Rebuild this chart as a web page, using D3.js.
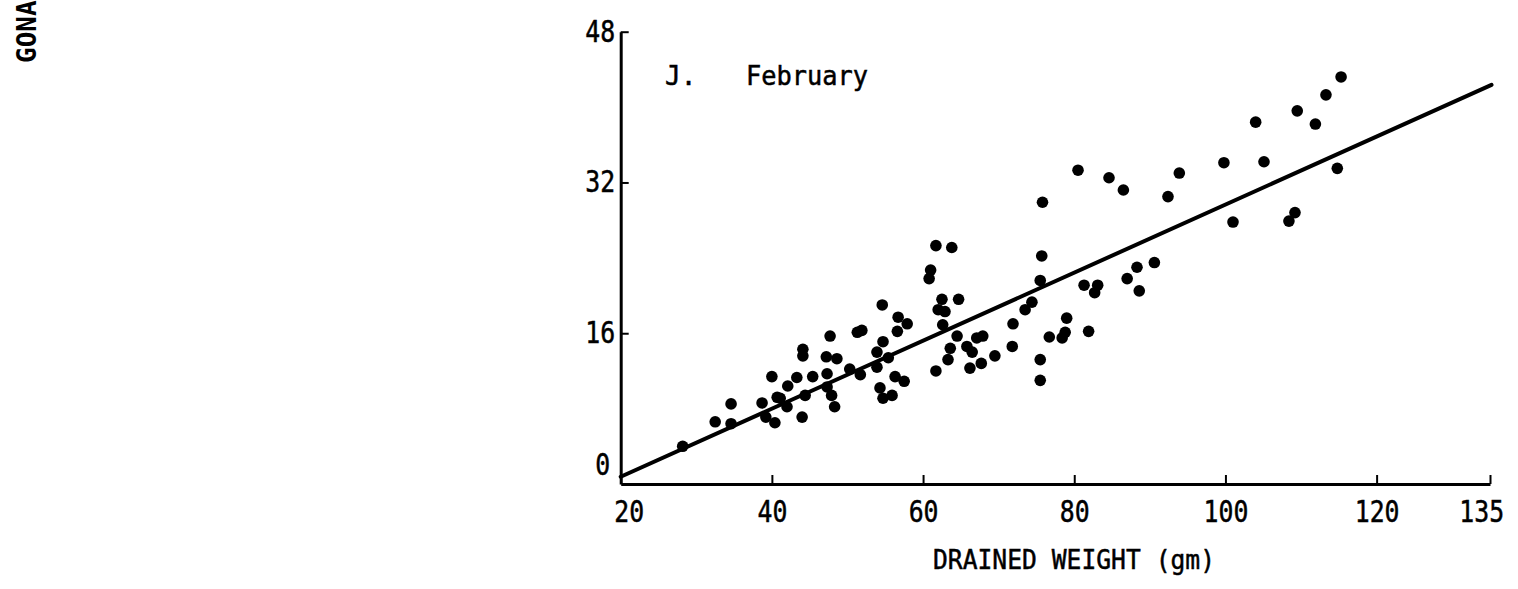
<!DOCTYPE html>
<html>
<head>
<meta charset="utf-8">
<script src="https://cdn.jsdelivr.net/npm/d3@7"></script>
<style>
  html, body { margin: 0; padding: 0; background: #fff; }
  svg { display: block; }
</style>
</head>
<body>
<script>
// Drained weight (gm) vs gonad weight, February sample
const drainedWeight = [
  28.2, 32.5, 34.6, 34.6, 38.7, 40.0, 39.2, 40.4, 40.7, 42.1,
  43.3, 44.0, 44.1, 44.1, 42.0, 45.4, 47.7, 47.2, 48.6, 47.3,
  47.3, 47.9, 48.3, 50.3, 51.7, 51.3, 51.9, 54.6, 56.7, 57.9,
  56.6, 54.7, 53.9, 55.4, 53.9, 56.3, 57.5, 54.3, 54.7, 55.9,
  61.7, 63.8, 61.0, 60.8, 62.5, 64.7, 62.0, 62.9, 62.6, 64.5,
  63.6, 63.3, 65.8, 66.5, 67.1, 67.9, 69.5, 61.7, 66.2, 67.7,
  71.9, 71.8, 74.4, 73.5, 75.7, 75.5, 75.5, 75.5, 76.7, 75.8,
  79.0, 78.8, 78.4, 81.9, 81.3, 83.1, 82.7, 87.0, 88.3, 90.6,
  88.6, 80.5, 84.6, 86.5, 92.4, 93.9, 99.8, 101.0, 104.0, 105.1,
  108.4, 109.2, 109.5, 111.9, 113.3, 115.3, 114.8, 41.1, 44.4
];
const gonadWeight = [
  4.0, 6.6, 8.5, 6.4, 8.6, 11.4, 7.1, 6.5, 9.2, 10.4,
  11.3, 7.1, 14.3, 13.6, 8.2, 11.4, 15.7, 13.5, 13.3, 11.7,
  10.3, 9.4, 8.2, 12.2, 11.6, 16.1, 16.3, 19.0, 17.7, 17.0,
  16.2, 15.1, 14.0, 13.4, 12.4, 11.4, 10.9, 10.2, 9.1, 9.4,
  25.3, 25.1, 22.7, 21.8, 19.6, 19.6, 18.5, 18.3, 16.9, 15.7,
  14.4, 13.2, 14.6, 14.0, 15.5, 15.7, 13.6, 12.0, 12.3, 12.8,
  17.0, 14.6, 19.3, 18.5, 24.2, 21.6, 13.2, 11.0, 15.6, 29.9,
  17.6, 16.1, 15.5, 16.2, 21.1, 21.1, 20.3, 21.8, 23.0, 23.5,
  20.5, 33.3, 32.5, 31.2, 30.5, 33.0, 34.1, 27.8, 38.4, 34.2,
  27.9, 28.8, 39.6, 38.2, 41.3, 43.2, 33.5, 9.1, 9.4
];

// Fitted regression line
const fitSlope = 0.361;
const fitIntercept = -6.45;
const fitRange = [20, 135.2];

const xTicks = [20, 40, 60, 80, 100, 120, 135];
const yTicks = [0, 16, 32, 48];
const xTitle = "DRAINED WEIGHT (gm)";
const panelLetter = "J.";
const panelMonth = "February";
const yTitle = "GONA";

const W = 1518, H = 589;
const mono = "'DejaVu Sans Mono', monospace";

const svg = d3.select("body").append("svg")
  .attr("width", W).attr("height", H);

const x = d3.scaleLinear().domain([20, 135]).range([620.7, 1490]);
const y = d3.scaleLinear().domain([0, 48]).range([484, 31.7]);

// X axis, ticks pointing inward
const gx = svg.append("g")
  .attr("transform", `translate(0,${y(0)})`)
  .call(d3.axisBottom(x).tickValues(xTicks).tickSizeInner(-9).tickSizeOuter(0).tickFormat(d3.format("d")));
gx.select(".domain").attr("stroke", "#000").attr("stroke-width", 3);
gx.selectAll(".tick line").attr("stroke", "#000").attr("stroke-width", 2);
gx.selectAll(".tick text")
  .attr("font-family", mono).attr("font-size", 31).attr("fill", "#000")
  .attr("stroke", "#000").attr("stroke-width", 0.5)
  .attr("y", 38).attr("dy", null)
  .attr("transform", "scale(0.8,1)")
  .attr("x", d => d === 20 ? 10 : d === 135 ? -11 : 0);

// Y axis, ticks pointing inward
const gy = svg.append("g")
  .attr("transform", `translate(${x(20)},0)`)
  .call(d3.axisLeft(y).tickValues(yTicks).tickSizeInner(-8).tickSizeOuter(0).tickFormat(d3.format("d")));
gy.select(".domain").attr("stroke", "#000").attr("stroke-width", 3);
gy.selectAll(".tick line").attr("stroke", "#000").attr("stroke-width", 2)
  .attr("display", d => d === 0 ? "none" : null);
gy.selectAll(".tick text")
  .attr("font-family", mono).attr("font-size", 31).attr("fill", "#000")
  .attr("stroke", "#000").attr("stroke-width", 0.5)
  .attr("x", d => d === 0 ? -13 : -7)
  .attr("dy", d => d === 0 ? "-0.3em" : "0.3em")
  .attr("transform", "scale(0.8,1)");

// Regression line
svg.append("line")
  .attr("x1", x(fitRange[0])).attr("y1", y(fitSlope * fitRange[0] + fitIntercept))
  .attr("x2", x(fitRange[1])).attr("y2", y(fitSlope * fitRange[1] + fitIntercept))
  .attr("stroke", "#000").attr("stroke-width", 4).attr("stroke-linecap", "round");

// Observations
svg.append("g").selectAll("circle")
  .data(drainedWeight.map((d, i) => [d, gonadWeight[i]]))
  .join("circle")
  .attr("cx", d => x(d[0])).attr("cy", d => y(d[1]))
  .attr("r", 5.8).attr("fill", "#000");

// Panel label
svg.append("text").attr("x", 665).attr("y", 85)
  .attr("font-family", mono).attr("font-size", 26).attr("fill", "#000")
  .attr("stroke", "#000").attr("stroke-width", 0.5)
  .text(panelLetter);
svg.append("text").attr("x", 746).attr("y", 85)
  .attr("font-family", mono).attr("font-size", 26).attr("fill", "#000")
  .attr("stroke", "#000").attr("stroke-width", 0.5)
  .attr("textLength", 122).attr("lengthAdjust", "spacingAndGlyphs")
  .text(panelMonth);

// Axis titles
svg.append("text").attr("x", 933).attr("y", 569)
  .attr("font-family", mono).attr("font-size", 27).attr("fill", "#000")
  .attr("stroke", "#000").attr("stroke-width", 0.5)
  .attr("textLength", 282).attr("lengthAdjust", "spacingAndGlyphs")
  .text(xTitle);
svg.append("text")
  .attr("transform", "translate(36,63) rotate(-90)")
  .attr("font-family", mono).attr("font-size", 26).attr("font-weight", "bold").attr("fill", "#000")
  .text(yTitle);
</script>
</body>
</html>
